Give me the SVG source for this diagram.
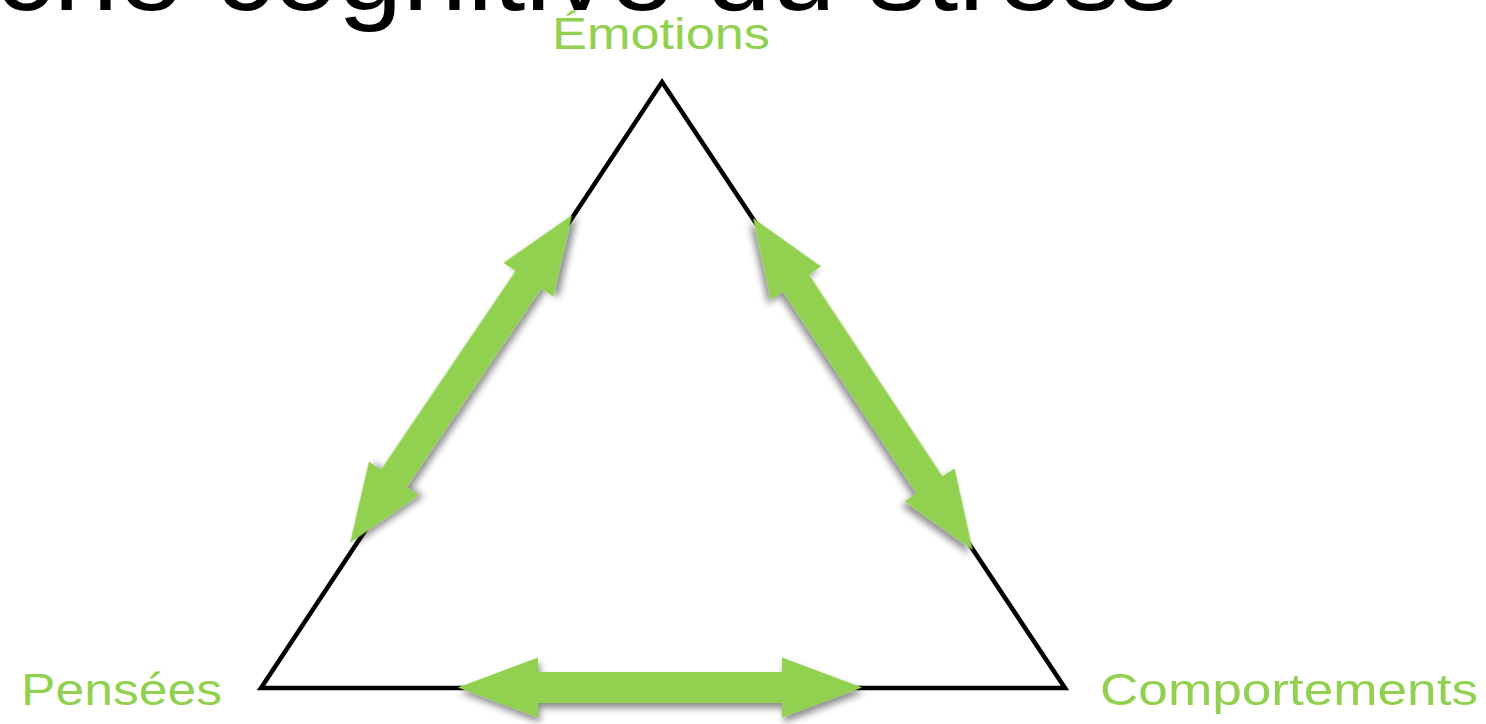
<svg xmlns="http://www.w3.org/2000/svg" width="1486" height="724" viewBox="0 0 1486 724">
  <defs>
    <filter id="shadow" x="-20%" y="-20%" width="140%" height="140%">
      <feDropShadow dx="2" dy="5" stdDeviation="3.5" flood-color="#000" flood-opacity="0.45"/>
    </filter>
  </defs>
  <style>
    .title { font-family: "Liberation Sans", Arial, sans-serif; font-size: 108px; fill: #000; }
    .label { font-family: "Liberation Sans", Arial, sans-serif; font-size: 44px; fill: #92D050; }
    .tri { fill: none; stroke: #000; stroke-width: 4.5; stroke-linejoin: miter; }
    .arrow { fill: #92D050; filter: url(#shadow); }
  </style>
  <rect width="1486" height="724" fill="#fff"/>
  <text class="title" x="-315" y="10" textLength="1493" lengthAdjust="spacingAndGlyphs">Approche cognitive du stress</text>

  <g id="triangle">
    <polygon class="tri" points="662,82 1065,688 261,688"/>
  </g>

  <g id="connectors">
    <path class="arrow" transform="translate(458,687.5)" d="M0,0 L80,-30 L80,-15.5 L324,-15.5 L324,-30 L404,0 L324,30 L324,15.5 L80,15.5 L80,30 Z"/>
    <path class="arrow" transform="translate(350,543) rotate(-55.9)" d="M0,0 L78,-30 L78,-15.5 L318,-15.5 L318,-30 L396,0 L318,30 L318,15.5 L78,15.5 L78,30 Z"/>
    <path class="arrow" transform="translate(753,218) rotate(56.5)" d="M0,0 L78,-30 L78,-15.5 L320,-15.5 L320,-30 L398,0 L320,30 L320,15.5 L78,15.5 L78,30 Z"/>
  </g>

  <g id="node-emotions">
    <text class="label" x="552" y="49" textLength="218" lengthAdjust="spacingAndGlyphs">Émotions</text>
  </g>
  <g id="node-pensees">
    <text class="label" x="21" y="705" textLength="201" lengthAdjust="spacingAndGlyphs">Pensées</text>
  </g>
  <g id="node-comportements">
    <text class="label" x="1100" y="705" textLength="378" lengthAdjust="spacingAndGlyphs">Comportements</text>
  </g>
</svg>
